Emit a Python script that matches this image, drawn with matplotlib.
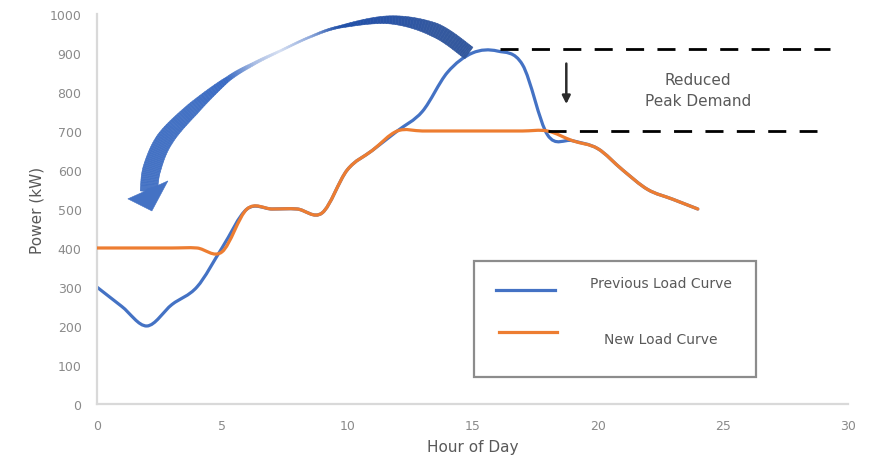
import numpy as np
import matplotlib
matplotlib.use('Agg')
import matplotlib.pyplot as plt
from matplotlib.path import Path
from matplotlib.patches import PathPatch, Rectangle, Polygon
from matplotlib.collections import PolyCollection
from matplotlib.transforms import IdentityTransform
from matplotlib.colors import to_rgb

plt.rcParams['font.family'] = ['DejaVu Sans']

# data
hours = [0, 1, 2, 3, 4, 5, 6, 7, 8, 9, 10, 11, 12,
         13, 14, 15, 16, 17, 18, 19, 20, 21, 22, 23, 24]
prev_load = [300, 250, 200, 255, 300, 400, 500, 500, 500, 490, 600, 650, 700,
             750, 850, 900, 905, 870, 690, 675, 655, 600, 550, 525, 500]
new_load = [400, 400, 400, 400, 400, 390, 500, 500, 500, 490, 600, 650, 700,
            700, 700, 700, 700, 700, 700, 675, 655, 600, 550, 525, 500]
series_names = ['Previous Load Curve', 'New Load Curve']
old_peak = 910
new_peak = 700
xticks = [0, 5, 10, 15, 20, 25, 30]
yticks = [0, 100, 200, 300, 400, 500, 600, 700, 800, 900, 1000]

BLUE = '#4472C4'
ORANGE = '#ED7D31'
GREY = '#595959'


def smooth_path(x, y):
    # excel style smoothed line (catmull-rom as cubic bezier)
    n = len(x)
    verts = [(x[0], y[0])]
    codes = [Path.MOVETO]
    for i in range(n - 1):
        x0, y0 = (x[i - 1], y[i - 1]) if i > 0 else (x[i], y[i])
        x3, y3 = (x[i + 2], y[i + 2]) if i + 2 < n else (x[i + 1], y[i + 1])
        c1 = (x[i] + (x[i + 1] - x0) / 6, y[i] + (y[i + 1] - y0) / 6)
        c2 = (x[i + 1] - (x3 - x[i]) / 6, y[i + 1] - (y3 - y[i]) / 6)
        verts += [c1, c2, (x[i + 1], y[i + 1])]
        codes += [Path.CURVE4] * 3
    return Path(verts, codes)


def catmull(pts, n=16):
    out = []
    m = len(pts)
    for i in range(m - 1):
        p0, p1, p2, p3 = pts[max(i - 1, 0)], pts[i], pts[i + 1], pts[min(i + 2, m - 1)]
        for t in np.linspace(0, 1, n, endpoint=False):
            out.append(0.5 * (2 * p1 + (-p0 + p2) * t + (2 * p0 - 5 * p1 + 4 * p2 - p3) * t * t
                              + (-p0 + 3 * p1 - 3 * p2 + p3) * t ** 3))
    out.append(pts[-1])
    return np.array(out)


fig = plt.figure(figsize=(8.72, 4.6), dpi=100)
ax = fig.add_axes([0.111, 0.1196, 0.8615, 0.8478])
ax.set_xlim(0, 30)
ax.set_ylim(0, 1000)

ax.add_patch(PathPatch(smooth_path(hours, prev_load), fill=False, edgecolor=BLUE,
                       lw=2.3, capstyle='round', joinstyle='round', zorder=2))
ax.add_patch(PathPatch(smooth_path(hours, new_load), fill=False, edgecolor=ORANGE,
                       lw=2.3, capstyle='round', joinstyle='round', zorder=3))

# axes styling
for s in ['top', 'right']:
    ax.spines[s].set_visible(False)
for s in ['left', 'bottom']:
    ax.spines[s].set_color('#d9d9d9')
    ax.spines[s].set_linewidth(1.6)
ax.set_xticks(xticks)
ax.set_yticks(yticks)
ax.tick_params(length=0, labelsize=9, labelcolor='#8a8a8a')
ax.tick_params(axis='y', pad=11)
ax.tick_params(axis='x', pad=11)
ax.set_xlabel('Hour of Day', fontsize=11, color=GREY, labelpad=5)
ax.set_ylabel('Power (kW)', fontsize=11, color=GREY, labelpad=4)

# peak lines
ax.plot([16.1, 29.3], [old_peak, old_peak], color='black', lw=2, dashes=(6.5, 4.8), zorder=4)
ax.plot([18.0, 28.75], [new_peak, new_peak], color='black', lw=2, dashes=(6.5, 4.8), zorder=4)
ax.annotate('', xy=(18.75, 762), xytext=(18.75, 880),
            arrowprops=dict(arrowstyle='-|>', color='#2b2b2b', lw=1.8, mutation_scale=12))
ax.text(24.0, 805, 'Reduced\nPeak Demand', ha='center', va='center', fontsize=11,
        color=GREY, linespacing=1.45)

# legend box drawn like the excel text box
ax.add_patch(Rectangle((15.06, 69), 11.27, 298, fill=False, edgecolor='#8c8c8c',
                       lw=1.6, zorder=5))
ax.plot([15.94, 18.3], [292, 292], color=BLUE, lw=2.3, zorder=5)
ax.plot([16.06, 18.38], [185, 185], color=ORANGE, lw=2.3, zorder=5)
ax.text(22.53, 310, series_names[0], ha='center', va='center', fontsize=10, color=GREY)
ax.text(22.53, 167, series_names[1], ha='center', va='center', fontsize=10, color=GREY)

# big curved arrow (shifting load from the peak to the night hours)
arc = np.array([[14.86, 900], [13.50, 959], [11.70, 985], [9.70, 967], [8.51, 941],
                [7.31, 905], [6.31, 874], [5.23, 833], [3.83, 756], [2.72, 679],
                [2.20, 603], [2.08, 544]])
arc_w = [14, 14, 8, 2.5, 2, 2, 3, 5, 13, 17, 18, 17]
arc_c = ['#33589d', '#34599f', '#2a54a6', '#1f4fa8', '#8fa9dc', '#d5dff2', '#a8bce4',
         '#3a6bc4', '#4472C4', '#4472C4', '#4472C4', '#4472C4']
pix = ax.transData.transform(arc)
cl = catmull(pix)
s = np.linspace(0, len(arc) - 1, len(cl))
w = np.interp(s, np.arange(len(arc)), arc_w)
rgb = np.array([to_rgb(c) for c in arc_c])
cols = np.column_stack([np.interp(s, np.arange(len(arc)), rgb[:, k]) for k in range(3)])
tan = np.gradient(cl, axis=0)
nrm = np.column_stack([-tan[:, 1], tan[:, 0]])
nrm /= np.linalg.norm(nrm, axis=1)[:, None]
left = cl + nrm * w[:, None] / 2
right = cl - nrm * w[:, None] / 2
quads = [[left[i], left[i + 1], right[i + 1], right[i]] for i in range(len(cl) - 1)]
ax.add_collection(PolyCollection(quads, facecolors=cols[:-1], edgecolors=cols[:-1],
                                 linewidths=0.4, transform=IdentityTransform(),
                                 clip_on=False, zorder=6))
head = ax.transData.transform([[1.24, 526], [2.20, 495], [2.84, 572]])
ax.add_patch(Polygon(head, closed=True, facecolor=BLUE, edgecolor=BLUE, lw=0.4,
                     transform=IdentityTransform(), clip_on=False, zorder=6))

fig.savefig('out.png', dpi=100, facecolor='white')
